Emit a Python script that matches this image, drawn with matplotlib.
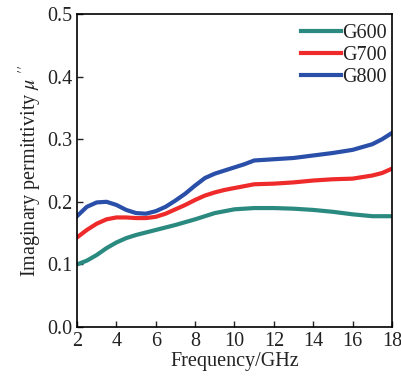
import matplotlib
matplotlib.use("Agg")
import matplotlib.pyplot as plt
import numpy as np

plt.rcParams['font.family'] = ['Liberation Serif', 'DejaVu Serif']
plt.rcParams['mathtext.fontset'] = 'stix'

freq_600 = [2, 2.5, 3, 3.5, 4, 4.5, 5, 5.5, 6, 7, 8, 9, 10, 11, 12, 13, 14, 15, 16, 17, 18]
g600 = [0.100, 0.106, 0.115, 0.126, 0.135, 0.142, 0.147, 0.151, 0.155, 0.163, 0.172, 0.182, 0.188, 0.190, 0.190, 0.189, 0.187, 0.184, 0.180, 0.177, 0.177]

freq = [2, 2.5, 3, 3.5, 4, 4.5, 5, 5.5, 6, 6.5, 7, 7.5, 8, 8.5, 9, 9.5, 10, 10.5, 11, 12, 13, 14, 15, 16, 17, 17.5, 18]
g700 = [0.143, 0.155, 0.165, 0.172, 0.175, 0.175, 0.174, 0.174, 0.176, 0.181, 0.188, 0.195, 0.203, 0.210, 0.215, 0.219, 0.222, 0.225, 0.228, 0.229, 0.231, 0.234, 0.236, 0.237, 0.242, 0.246, 0.253]
g800 = [0.177, 0.192, 0.199, 0.200, 0.195, 0.187, 0.182, 0.181, 0.185, 0.192, 0.202, 0.213, 0.226, 0.238, 0.245, 0.250, 0.255, 0.260, 0.266, 0.268, 0.270, 0.274, 0.278, 0.283, 0.292, 0.300, 0.310]

labels = ['G600', 'G700', 'G800']
colors = ['#2a8a80', '#ee2a2a', '#2a4fa8']

fs = 14.5
fig = plt.figure(figsize=(4.02, 3.81), dpi=100)
ax = fig.add_axes([77/402, 1-327/381, (392-77)/402, (327-14)/381])

ax.plot(freq_600, g600, color=colors[0], lw=3, label=labels[0])
ax.plot(freq, g700, color=colors[1], lw=3, label=labels[1])
ax.plot(freq, g800, color=colors[2], lw=3, label=labels[2])

ax.set_xlim(2, 18)
ax.set_ylim(0, 0.5)
ax.set_xticks(np.arange(2, 19, 2))
ax.set_yticks(np.arange(0, 0.51, 0.1))
ax.set_yticklabels([f'{v:.1f}' for v in np.arange(0, 0.51, 0.1)])
ax.tick_params(direction='in', length=4.5, width=1, labelsize=fs, top=False, right=False,
               colors='#222222')
for s in ax.spines.values():
    s.set_linewidth(1.2)

ax.set_xlabel('Frequency/GHz', fontsize=fs, labelpad=1, color='#222222')
ax.set_ylabel(r'Imaginary permittivity $\mathit{\mu}$ $^{\prime\prime}$', fontsize=fs,
              labelpad=2, color='#222222')

leg = ax.legend(loc='upper right', bbox_to_anchor=(1.015, 1.0), frameon=False, fontsize=fs,
                handlelength=2.0, handletextpad=0.05, labelspacing=0.15, borderaxespad=0.1)
for t in leg.get_texts():
    t.set_color('#222222')

fig.savefig('out.png', dpi=100)
